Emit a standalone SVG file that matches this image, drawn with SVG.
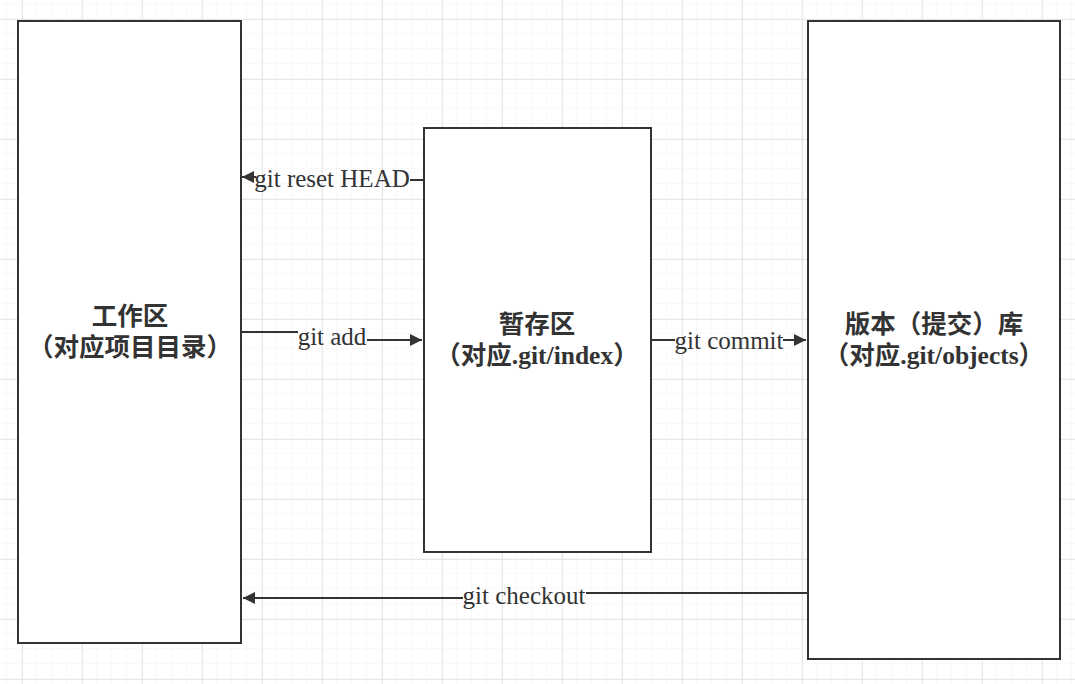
<svg xmlns="http://www.w3.org/2000/svg" width="1075" height="684" viewBox="0 0 1075 684">
<defs>
<pattern id="minor" x="7" y="4" width="15" height="15" patternUnits="userSpaceOnUse">
<path d="M15 0V15M0 15H15" fill="none" stroke="#f2f2f2" stroke-width="1"/>
</pattern>
<pattern id="major" x="22" y="19" width="60" height="60" patternUnits="userSpaceOnUse">
<path d="M0.5 0V60M0 0.5H60" fill="none" stroke="#e6e6e6" stroke-width="1"/>
</pattern>
<marker id="arr" viewBox="0 0 10 10" refX="10" refY="5" markerWidth="16" markerHeight="12" markerUnits="userSpaceOnUse" orient="auto">
<path d="M0 0L10 5L0 10Z" fill="#333"/>
</marker>
<style>
.box{fill:#fff;stroke:#333;stroke-width:2}
.t{font-family:"Liberation Serif","Noto Sans CJK SC",serif;font-weight:bold;font-size:25.5px;fill:#333;text-anchor:middle}
.lbl{font-family:"Liberation Serif",serif;font-size:25px;fill:#333;text-anchor:middle}
.ln{fill:none;stroke:#333;stroke-width:2}
</style>
</defs>
<rect width="1075" height="684" fill="#fff"/>
<rect width="1075" height="684" fill="url(#minor)"/>
<rect width="1075" height="684" fill="url(#major)"/>
<g id="workspace">
<rect class="box" x="18" y="21" width="223" height="622"/>
<text class="t" x="130" y="325">工作区</text>
<text class="t" x="130" y="356">（对应项目目录）</text>
</g>
<g id="index">
<rect class="box" x="424" y="128" width="227" height="424"/>
<text class="t" x="537" y="333">暂存区</text>
<text class="t" x="537" y="364">（对应.git/index）</text>
</g>
<g id="repo">
<rect class="box" x="808" y="21" width="252" height="638"/>
<text class="t" x="934" y="333">版本（提交）库</text>
<text class="t" x="934" y="364">（对应.git/objects）</text>
</g>
<g id="connectors">
<path class="ln" d="M424 180H410"/>
<path class="ln" d="M256 177H242" marker-end="url(#arr)"/>
<text class="lbl" x="332" y="187">git reset HEAD</text>
<path class="ln" d="M241 332H298"/>
<path class="ln" d="M367 340H422" marker-end="url(#arr)"/>
<text class="lbl" x="332" y="345">git add</text>
<path class="ln" d="M651 340H675"/>
<path class="ln" d="M783 340H806" marker-end="url(#arr)"/>
<text class="lbl" x="729" y="349">git commit</text>
<path class="ln" d="M808 593H586"/>
<path class="ln" d="M463 598H243" marker-end="url(#arr)"/>
<text class="lbl" x="524" y="604">git checkout</text>
</g>
</svg>
